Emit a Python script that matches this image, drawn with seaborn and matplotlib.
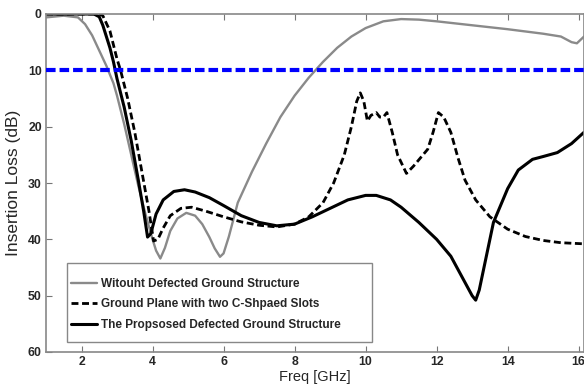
import matplotlib
matplotlib.use("Agg")
import matplotlib.pyplot as plt
from matplotlib.patches import Rectangle
import seaborn as sns
import pandas as pd

# --- data ---
x_wo = [1.0, 1.5, 1.9, 2.1, 2.3, 2.5, 2.7, 2.9, 3.0, 3.2, 3.4, 3.6, 3.8, 4.0, 4.1, 4.22, 4.35,
        4.5, 4.7, 4.95, 5.2, 5.4, 5.6, 5.75, 5.9, 6.0, 6.15, 6.4, 6.8, 7.2, 7.6, 8.0, 8.4,
        8.8, 9.2, 9.6, 10.0, 10.5, 11.0, 11.5, 12.0, 13.0, 14.0, 15.0, 15.5, 15.8, 15.95, 16.15]
y_wo = [0.6, 0.3, 0.6, 1.8, 3.8, 6.5, 9.2, 12.3, 14.5, 19.5, 25, 30.5, 35.5, 40, 42, 43.4, 41.5,
        38.5, 36.3, 35.3, 35.8, 37.3, 39.6, 41.6, 43.1, 42.5, 39.5, 33.5, 28.0, 23.0, 18.3, 14.5, 11.3,
        8.5, 6, 4, 2.5, 1.3, 0.9, 1.0, 1.3, 2.0, 2.7, 3.5, 4.0, 5.0, 5.2, 4.0]

x_cs = [1.0, 2.5, 2.6, 2.8, 3.0, 3.1, 3.3, 3.5, 3.7, 3.9, 4.03, 4.15, 4.3, 4.5, 4.8, 5.1, 5.5,
        6.0, 6.5, 7.0, 7.5, 8.0, 8.4, 8.8, 9.1, 9.4, 9.6, 9.75, 9.85, 9.95, 10.05, 10.15, 10.3,
        10.4, 10.5, 10.6, 10.75, 10.9, 11.15, 11.35, 11.55, 11.75, 11.9, 12.05, 12.2, 12.4,
        12.6, 12.8, 13.1, 13.5, 14.0, 14.5, 15.0, 15.5, 16.15]
y_cs = [0.0, 0.0, 0.3, 3.0, 8.0, 10.0, 15.0, 21.0, 28.0, 35.0, 40.3, 40.0, 38.0, 35.8, 34.5,
        34.3, 35.0, 36.0, 36.9, 37.5, 37.8, 37.3, 36.0, 33.5, 30.0, 25.0, 20.0, 15.5, 14.0, 15.5,
        19.0, 18.0, 17.5, 18.3, 18.3, 17.5, 21.0, 25.0, 28.3, 27.0, 25.5, 24.0, 21.0, 17.5, 18.3,
        21.0, 25.5, 29.5, 33.0, 36.0, 38.2, 39.5, 40.2, 40.6, 40.8]

x_pr = [1.0, 2.35, 2.5, 2.6, 2.8, 2.9, 3.0, 3.2, 3.4, 3.6, 3.75, 3.86, 3.95, 4.1, 4.3, 4.6, 4.9,
        5.2, 5.6, 6.0, 6.5, 7.0, 7.5, 8.0, 8.5, 9.0, 9.5, 10.0, 10.3, 10.7, 11.0, 11.5, 12.0,
        12.4, 12.7, 13.0, 13.1, 13.2, 13.4, 13.6, 13.8, 14.0, 14.3, 14.7, 15.0, 15.4, 15.8, 16.15]
y_pr = [0.0, 0.0, 0.5, 2.0, 6.0, 8.5, 11.5, 16.5, 22.5, 29.5, 35.0, 39.6, 39.0, 35.5, 33.0,
        31.5, 31.2, 31.6, 32.6, 34.0, 35.8, 37.0, 37.6, 37.3, 36.0, 34.5, 33.0, 32.2, 32.2, 33.0,
        34.3, 37.0, 40.0, 43.0, 46.5, 50.0, 50.8, 49.0, 43.0, 37.0, 34.0, 31.0, 27.7, 25.8, 25.3,
        24.6, 23.0, 21.0]

labels = ["Witouht Defected Ground Structure",
          "Ground Plane with two C-Shpaed Slots",
          "The Propsosed Defected Ground Structure"]
threshold = 10
x_ticks = [2, 4, 6, 8, 10, 12, 14, 16]
y_ticks = [0, 10, 20, 30, 40, 50, 60]

sns.set_style("white")
plt.rcParams['font.family'] = ['Liberation Sans', 'DejaVu Sans']

fig = plt.figure(figsize=(5.84, 3.92), dpi=100)
ax = fig.add_axes([46/584, 1-352/392, 1-46/584, (352-14)/392])

df_wo = pd.DataFrame({"x": x_wo, "y": y_wo})
df_cs = pd.DataFrame({"x": x_cs, "y": y_cs})
df_pr = pd.DataFrame({"x": x_pr, "y": y_pr})

DASH = [2.5, 1.3]
sns.lineplot(data=df_wo, x="x", y="y", ax=ax, color="#8a8a8a", lw=1.7, label=labels[0],
             estimator=None, sort=False)
sns.lineplot(data=df_cs, x="x", y="y", ax=ax, color="black", lw=2.0, label=labels[1],
             estimator=None, sort=False)
ax.lines[-1].set_dashes(DASH)
sns.lineplot(data=df_pr, x="x", y="y", ax=ax, color="black", lw=2.2, label=labels[2],
             estimator=None, sort=False)
ax.axhline(threshold, color="#0000ff", lw=3.0, dashes=[2.3, 0.95], zorder=3)

ax.set_xlim(1, 16.15)
ax.set_ylim(60, 0)
ax.set_xticks(x_ticks)
ax.set_yticks(y_ticks)
ax.set_xticklabels([str(t) for t in x_ticks], fontsize=8.8, fontweight='bold')
ax.set_yticklabels([str(t) for t in y_ticks], fontsize=8.8, fontweight='bold')
ax.tick_params(direction='in', length=4, color='#777777', top=True, right=False,
               bottom=True, left=True, pad=3)
for s in ax.spines.values():
    s.set_visible(True)
    s.set_color('#888888')
    s.set_linewidth(1.2)

ax.set_xlabel("Freq [GHz]", fontsize=10.5, labelpad=1)
ax.set_ylabel("Insertion Loss (dB)", fontsize=12.5, labelpad=5)

# legend frame drawn as a rectangle (axes coordinates)
ax.add_patch(Rectangle((0.039, 0.0296), 0.567, 0.2334, transform=ax.transAxes,
                       facecolor='white', edgecolor='#888888', lw=1.0, zorder=4))
leg = ax.legend(loc='upper left', bbox_to_anchor=(0.046, 0.220), frameon=False,
                handlelength=2.2, prop={'weight': 'bold', 'size': 8.5},
                borderpad=0, labelspacing=0.74, handletextpad=0.4, borderaxespad=0)
leg.set_zorder(5)
leg.get_lines()[1].set_dashes(DASH)

fig.savefig("out.png", dpi=100)
